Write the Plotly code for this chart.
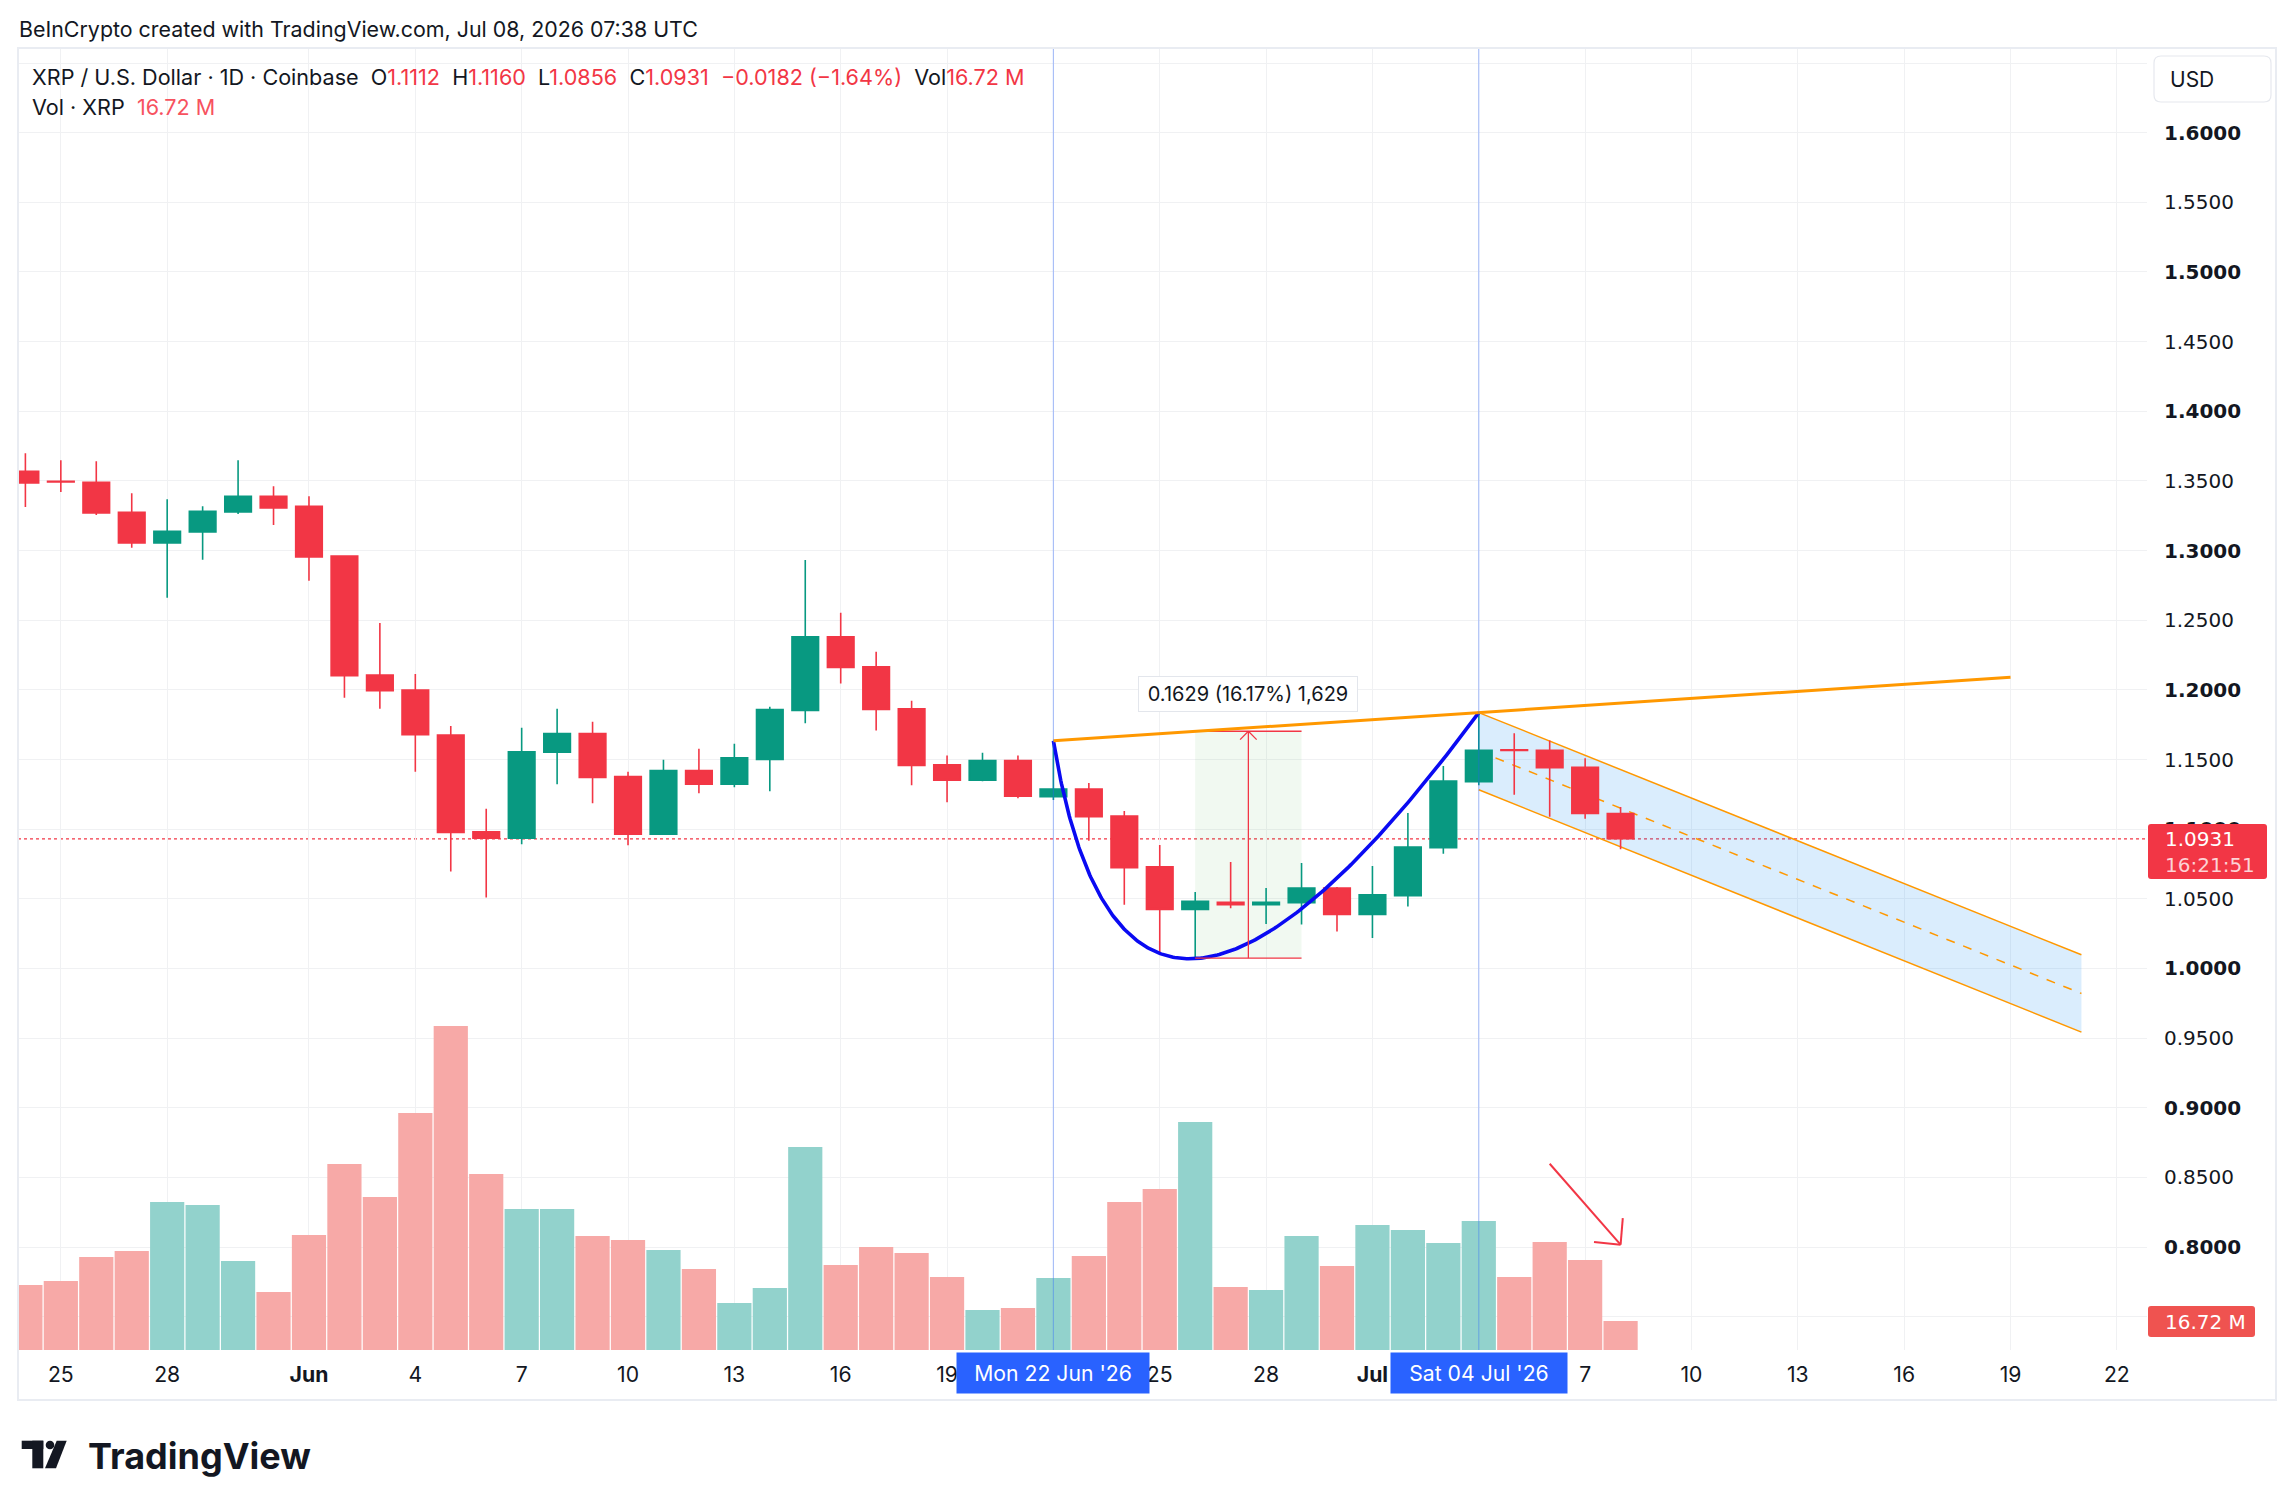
import numpy as np
import pandas as pd
import plotly.graph_objects as go

# ---------------- data ----------------
dates = pd.date_range("2026-05-24", "2026-07-08", freq="D")
open_ = [1.3569, 1.3497, 1.3490, 1.3275, 1.3055, 1.3134, 1.3278, 1.3390,
         1.3318, 1.2960, 1.2107, 1.1999, 1.1676, 1.0981, 1.0935, 1.1552, 1.1686, 1.1377,
         1.0964, 1.1420, 1.1322, 1.1501, 1.1853, 1.2381, 1.2166, 1.1865, 1.1463, 1.1351,
         1.1492, 1.1233, 1.1288, 1.1094, 1.0729, 1.0423, 1.0475, 1.0458, 1.0473, 1.0578,
         1.0387, 1.0523, 1.0867, 1.1340, 1.1570, 1.1567, 1.1445, 1.1112]
high = [1.3699, 1.3648, 1.3641, 1.3412, 1.3369, 1.3318, 1.3648, 1.3462,
        1.3390, 1.2962, 1.2480, 1.2114, 1.1741, 1.1146, 1.1729, 1.1865, 1.1772, 1.1413,
        1.1499, 1.1578, 1.1614, 1.1879, 1.2933, 1.2553, 1.2273, 1.1922, 1.1528, 1.1549,
        1.1528, 1.1634, 1.1331, 1.1130, 1.0886, 1.0549, 1.0764, 1.0578, 1.0757, 1.0585,
        1.0736, 1.1116, 1.1453, 1.1837, 1.1689, 1.1637, 1.1510, 1.1160]
low = [1.3313, 1.3421, 1.3256, 1.3020, 1.2661, 1.2934, 1.3263, 1.3184,
       1.2783, 1.1944, 1.1865, 1.1413, 1.0697, 1.0510, 1.0892, 1.1322, 1.1186, 1.0885,
       1.0960, 1.1258, 1.1301, 1.1272, 1.1760, 1.2046, 1.1709, 1.1315, 1.1193, 1.1344,
       1.1222, 1.1209, 1.0917, 1.0458, 1.0117, 1.0074, 1.0432, 1.0320, 1.0315, 1.0265,
       1.0218, 1.0445, 1.0824, 1.1316, 1.1247, 1.1089, 1.1075, 1.0856]
close = [1.3486, 1.3493, 1.3270, 1.3055, 1.3139, 1.3282, 1.3390, 1.3306,
         1.2955, 1.2102, 1.1994, 1.1679, 1.0976, 1.0935, 1.1556, 1.1686, 1.1372, 1.0964,
         1.1420, 1.1322, 1.1513, 1.1858, 1.2381, 1.2161, 1.1860, 1.1458, 1.1351, 1.1492,
         1.1236, 1.1288, 1.1089, 1.0724, 1.0423, 1.0482, 1.0458, 1.0475, 1.0578, 1.0387,
         1.0528, 1.0872, 1.1345, 1.1567, 1.1565, 1.1441, 1.1113, 1.0931]
volume_m = [37.5, 39.8, 53.6, 57.1, 85.3, 83.6, 51.3, 33.4,
            66.3, 107.2, 88.2, 136.7, 186.8, 101.5, 81.3, 81.3, 65.7, 63.4,
            57.7, 46.7, 27.1, 35.7, 117.0, 49.0, 59.4, 55.9, 42.1, 23.1,
            24.2, 41.5, 54.2, 85.3, 92.8, 131.5, 36.3, 34.6, 65.7, 48.4,
            72.1, 69.2, 61.7, 74.4, 42.1, 62.3, 51.9, 16.72]

x_tick_dates = ["2026-05-25", "2026-05-28", "2026-06-01", "2026-06-04", "2026-06-07",
                "2026-06-10", "2026-06-13", "2026-06-16", "2026-06-19", "2026-06-22",
                "2026-06-25", "2026-06-28", "2026-07-01", "2026-07-04", "2026-07-07",
                "2026-07-10", "2026-07-13", "2026-07-16", "2026-07-19", "2026-07-22"]
x_tick_labels = ["25", "28", "<b>Jun</b>", "4", "7", "10", "13", "16", "19", "22",
                 "25", "28", "<b>Jul</b>", "4", "7", "10", "13", "16", "19", "22"]
y_tick_values = [round(0.75 + 0.05 * i, 2) for i in range(19)]

# drawing anchors
cup_x = ["2026-06-22 00:00", "2026-06-24 01:26", "2026-07-04 00:00"]
cup_y = [1.1634, 0.8407, 1.1837]
trend_x = ["2026-06-22", "2026-07-19"]
trend_y = [1.1634, 1.2091]
chan_x = ["2026-07-04", "2026-07-21"]
chan_upper = [1.1837, 1.0098]
chan_lower = [1.1283, 0.9543]
measure_x = ["2026-06-26", "2026-06-29"]
measure_y = [1.0074, 1.1703]
measure_mid_x = "2026-06-27 12:00"
arrow_x = ["2026-07-06 00:00", "2026-07-08 00:00", "2026-07-07 06:00", "2026-07-08 01:30"]
arrow_y = [0.8598, 0.8017, 0.8036, 0.8208]
marker_dates = ["2026-06-22", "2026-07-04"]
marker_labels = ["Mon 22 Jun '26", "Sat 04 Jul '26"]

# ---------------- style ----------------
UP = "#089981"
DN = "#F23645"
VUP = "#92D2CC"
VDN = "#F7A9A7"
GRID = "#F0F1F3"
TXT = "#131722"
FONT = "Inter, Roboto, sans-serif"
SCALEFONT = "DejaVu Sans, Inter, sans-serif"
W, H = 2294, 1509
PL, PR, PT, PB = 18, 2147, 48, 1350


def X(p):
    return (p - PL) / (PR - PL)


def Y(p):
    return (PB - p) / (PB - PT)


fig = go.Figure()

vol_colors = [VUP if c >= o else VDN for o, c in zip(open_, close)]
fig.add_trace(go.Bar(x=dates, y=volume_m, yaxis="y2", marker=dict(color=vol_colors, line=dict(width=0)),
                     width=86400000 * 0.965, hoverinfo="skip", showlegend=False))

fig.add_trace(go.Candlestick(x=dates, open=open_, high=high, low=low, close=close,
                             increasing=dict(line=dict(color=UP, width=1.6), fillcolor=UP),
                             decreasing=dict(line=dict(color=DN, width=1.6), fillcolor=DN),
                             whiskerwidth=0, hoverinfo="skip", showlegend=False))

# cup (quadratic bezier through anchors)
base = pd.Timestamp(cup_x[0])
cx = [(pd.Timestamp(v) - base) / pd.Timedelta("1D") for v in cup_x]
t = np.linspace(0, 1, 240)
bx = (1 - t) ** 2 * cx[0] + 2 * t * (1 - t) * cx[1] + t ** 2 * cx[2]
by = (1 - t) ** 2 * cup_y[0] + 2 * t * (1 - t) * cup_y[1] + t ** 2 * cup_y[2]
fig.add_trace(go.Scatter(x=[base + pd.Timedelta(days=float(v)) for v in bx], y=by, mode="lines",
                         line=dict(color="#0A0AF2", width=3.6), hoverinfo="skip", showlegend=False))

shapes = []
# channel fill
shapes.append(dict(type="path", xref="x", yref="y", layer="between", line=dict(width=0),
                   fillcolor="rgba(33,150,243,0.17)",
                   path=f"M {chan_x[0]},{chan_upper[0]} L {chan_x[1]},{chan_upper[1]} "
                        f"L {chan_x[1]},{chan_lower[1]} L {chan_x[0]},{chan_lower[0]} Z"))
for yy in (chan_upper, chan_lower):
    shapes.append(dict(type="line", xref="x", yref="y", layer="between", x0=chan_x[0], x1=chan_x[1],
                       y0=yy[0], y1=yy[1], line=dict(color="#FF9800", width=1.5)))
shapes.append(dict(type="line", xref="x", yref="y", layer="between", x0=chan_x[0], x1=chan_x[1],
                   y0=(chan_upper[0] + chan_lower[0]) / 2, y1=(chan_upper[1] + chan_lower[1]) / 2,
                   line=dict(color="#FF9800", width=1.5, dash="dash")))
# measure
shapes.append(dict(type="rect", xref="x", yref="y", layer="between", x0=measure_x[0], x1=measure_x[1],
                   y0=measure_y[0], y1=measure_y[1], line=dict(width=0), fillcolor="rgba(76,175,80,0.08)"))
for yy in measure_y:
    shapes.append(dict(type="line", xref="x", yref="y", x0=measure_x[0], x1=measure_x[1], y0=yy, y1=yy,
                       line=dict(color=DN, width=1.3)))
shapes.append(dict(type="line", xref="x", yref="y", x0=measure_mid_x, x1=measure_mid_x,
                   y0=measure_y[0], y1=measure_y[1], line=dict(color=DN, width=1.3)))
mid = pd.Timestamp(measure_mid_x)
for s in (-1, 1):
    shapes.append(dict(type="line", xref="x", yref="y", x0=mid, x1=mid + pd.Timedelta(hours=5.6 * s),
                       y0=measure_y[1], y1=measure_y[1] - 0.006, line=dict(color=DN, width=1.3)))
# last price dotted line
shapes.append(dict(type="line", xref="paper", yref="y", layer="between", x0=0, x1=1, y0=close[-1], y1=close[-1],
                   line=dict(color=DN, width=1.3, dash="dot")))
# trend line
shapes.append(dict(type="line", xref="x", yref="y", x0=trend_x[0], x1=trend_x[1], y0=trend_y[0], y1=trend_y[1],
                   line=dict(color="#FF9800", width=3)))
# vertical markers
for d in marker_dates:
    shapes.append(dict(type="line", xref="x", yref="paper", x0=d, x1=d, y0=0, y1=1,
                       line=dict(color="rgba(41,98,255,0.35)", width=1.2)))
# hand-drawn arrow
shapes.append(dict(type="line", xref="x", yref="y", x0=arrow_x[0], x1=arrow_x[1], y0=arrow_y[0], y1=arrow_y[1],
                   line=dict(color=DN, width=2)))
for j in (2, 3):
    shapes.append(dict(type="line", xref="x", yref="y", x0=arrow_x[1], x1=arrow_x[j], y0=arrow_y[1],
                       y1=arrow_y[j], line=dict(color=DN, width=2)))


def rrect(x0, y0, x1, y1, r):
    return (f"M {X(x0 + r)},{Y(y0)} L {X(x1 - r)},{Y(y0)} Q {X(x1)},{Y(y0)} {X(x1)},{Y(y0 + r)} "
            f"L {X(x1)},{Y(y1 - r)} Q {X(x1)},{Y(y1)} {X(x1 - r)},{Y(y1)} L {X(x0 + r)},{Y(y1)} "
            f"Q {X(x0)},{Y(y1)} {X(x0)},{Y(y1 - r)} L {X(x0)},{Y(y0 + r)} Q {X(x0)},{Y(y0)} {X(x0 + r)},{Y(y0)} Z")


# chart frame
shapes.append(dict(type="rect", xref="paper", yref="paper", x0=X(18), x1=X(2276), y0=Y(48), y1=Y(1400),
                   line=dict(color="#E9ECF2", width=2), fillcolor="rgba(0,0,0,0)", layer="above"))
# USD box
shapes.append(dict(type="path", xref="paper", yref="paper", path=rrect(2154, 56, 2271, 102, 7),
                   fillcolor="white", line=dict(color="#E6E8EE", width=1.2), layer="above"))
# price label box
shapes.append(dict(type="path", xref="paper", yref="paper", path=rrect(2148, 824, 2267, 879, 3),
                   fillcolor=DN, line=dict(width=0), layer="above"))
# volume label box
shapes.append(dict(type="path", xref="paper", yref="paper", path=rrect(2148, 1306, 2255, 1337, 3),
                   fillcolor="#EF5350", line=dict(width=0), layer="above"))
# TradingView logo
shapes.append(dict(type="rect", xref="paper", yref="paper", x0=X(21.7), x1=X(43.3), y0=Y(1440.7), y1=Y(1449),
                   fillcolor="#131722", line=dict(width=0), layer="above"))
shapes.append(dict(type="rect", xref="paper", yref="paper", x0=X(32.3), x1=X(43.3), y0=Y(1440.7), y1=Y(1468.3),
                   fillcolor="#131722", line=dict(width=0), layer="above"))
shapes.append(dict(type="circle", xref="paper", yref="paper", x0=X(45.7), x1=X(54.3), y0=Y(1440.7), y1=Y(1449.3),
                   fillcolor="#131722", line=dict(width=0), layer="above"))
shapes.append(dict(type="path", xref="paper", yref="paper", layer="above", fillcolor="#131722", line=dict(width=0),
                   path=f"M {X(56.7)},{Y(1440.7)} L {X(66.7)},{Y(1440.7)} L {X(56)},{Y(1468.3)} "
                        f"L {X(45)},{Y(1468.3)} Z"))

ann = []
ann.append(dict(xref="paper", yref="paper", x=X(17), y=Y(29), xanchor="left", yanchor="middle", showarrow=False,
                text="BeInCrypto created with TradingView.com, Jul 08, 2026 07:38 UTC",
                font=dict(size=21.4, color=TXT, family=FONT)))
chg = close[-1] - close[-2]
pct = chg / close[-2] * 100
R = lambda s: f'<span style="color:{DN}">{s}</span>'
sp = "\u00a0\u00a0"
line1 = ("XRP / U.S. Dollar · 1D · Coinbase" + sp + "O" + R(f"{open_[-1]:.4f}") + sp + "H" + R(f"{high[-1]:.4f}")
         + sp + "L" + R(f"{low[-1]:.4f}") + sp + "C" + R(f"{close[-1]:.4f}") + sp
         + R(f"\u2212{abs(chg):.4f} (\u2212{abs(pct):.2f}%)") + sp + "Vol" + R(f"{volume_m[-1]:.2f}\u00a0M"))
ann.append(dict(xref="paper", yref="paper", x=X(30), y=Y(77), xanchor="left", yanchor="middle", showarrow=False,
                text=line1, font=dict(size=21.6, color=TXT, family=FONT)))
ann.append(dict(xref="paper", yref="paper", x=X(30), y=Y(107), xanchor="left", yanchor="middle", showarrow=False,
                text="Vol · XRP" + sp + f'<span style="color:#F7525F">{volume_m[-1]:.2f}\u00a0M</span>',
                font=dict(size=21.6, color=TXT, family=FONT)))
ann.append(dict(xref="paper", yref="paper", x=X(2168), y=Y(79), xanchor="left", yanchor="middle", showarrow=False,
                text="USD", font=dict(size=21, color=TXT, family=FONT)))
ann.append(dict(xref="paper", yref="paper", x=X(2163), y=Y(839), xanchor="left", yanchor="middle", showarrow=False,
                text=f"{close[-1]:.4f}", font=dict(size=20, color="white", family=SCALEFONT)))
ann.append(dict(xref="paper", yref="paper", x=X(2163), y=Y(865), xanchor="left", yanchor="middle", showarrow=False,
                text="16:21:51", font=dict(size=20, color="rgba(255,255,255,0.78)", family=SCALEFONT)))
ann.append(dict(xref="paper", yref="paper", x=X(2163), y=Y(1322), xanchor="left", yanchor="middle", showarrow=False,
                text=f"{volume_m[-1]:.2f}\u00a0M", font=dict(size=20, color="white", family=SCALEFONT)))
ann.append(dict(xref="paper", yref="paper", x=X(86), y=Y(1456), xanchor="left", yanchor="middle", showarrow=False,
                text="<b>TradingView</b>", font=dict(size=36, color="#131722", family=FONT)))
for d, lab in zip(marker_dates, marker_labels):
    ann.append(dict(xref="x", yref="paper", x=d, y=Y(1373), xanchor="center", yanchor="middle", showarrow=False,
                    text=lab, font=dict(size=21.2, color="white", family=FONT), bgcolor="#2962FF",
                    width=172 if d == marker_dates[1] else 188, height=36, borderpad=2))
ann.append(dict(xref="x", yref="y", x=measure_mid_x, y=1.1968, xanchor="center", yanchor="middle", showarrow=False,
                text=f"{measure_y[1] - measure_y[0]:.4f} ({(measure_y[1] - measure_y[0]) / measure_y[0] * 100:.2f}%) 1,629",
                font=dict(size=20, color=TXT, family=FONT), bgcolor="white", bordercolor="#E3E6EC",
                borderwidth=1, borderpad=2, width=214, height=30))

fig.update_layout(
    width=W, height=H, template="none", paper_bgcolor="white", plot_bgcolor="white",
    margin=dict(l=PL, r=W - PR, t=PT, b=H - PB), showlegend=False,
    boxgap=0.25, boxgroupgap=0,
    font=dict(family=FONT, color=TXT, size=20),
    xaxis=dict(type="date", range=["2026-05-23 19:00", "2026-07-22 20:24"], tickvals=x_tick_dates,
               ticktext=x_tick_labels, showgrid=True, gridcolor=GRID, gridwidth=1, zeroline=False,
               showline=False, ticks="", tickfont=dict(size=21.2, color=TXT, family=FONT),
               rangeslider=dict(visible=False), automargin=False, ticklabelstandoff=10),
    yaxis=dict(side="right", range=[0.7261, 1.6608], tickvals=y_tick_values,
               ticktext=[(f"<b>{v:.4f}</b>" if abs(v * 10 - round(v * 10)) < 1e-6 else f"{v:.4f}") for v in y_tick_values],
               showgrid=True, gridcolor=GRID, gridwidth=1, zeroline=False, showline=False, ticks="",
               tickfont=dict(size=20, color=TXT, family=SCALEFONT), automargin=False, ticklabelstandoff=16),
    yaxis2=dict(overlaying="y", side="right", range=[0, 750.6], visible=False, showgrid=False),
    shapes=shapes, annotations=ann,
)

fig.write_html("out.html")
